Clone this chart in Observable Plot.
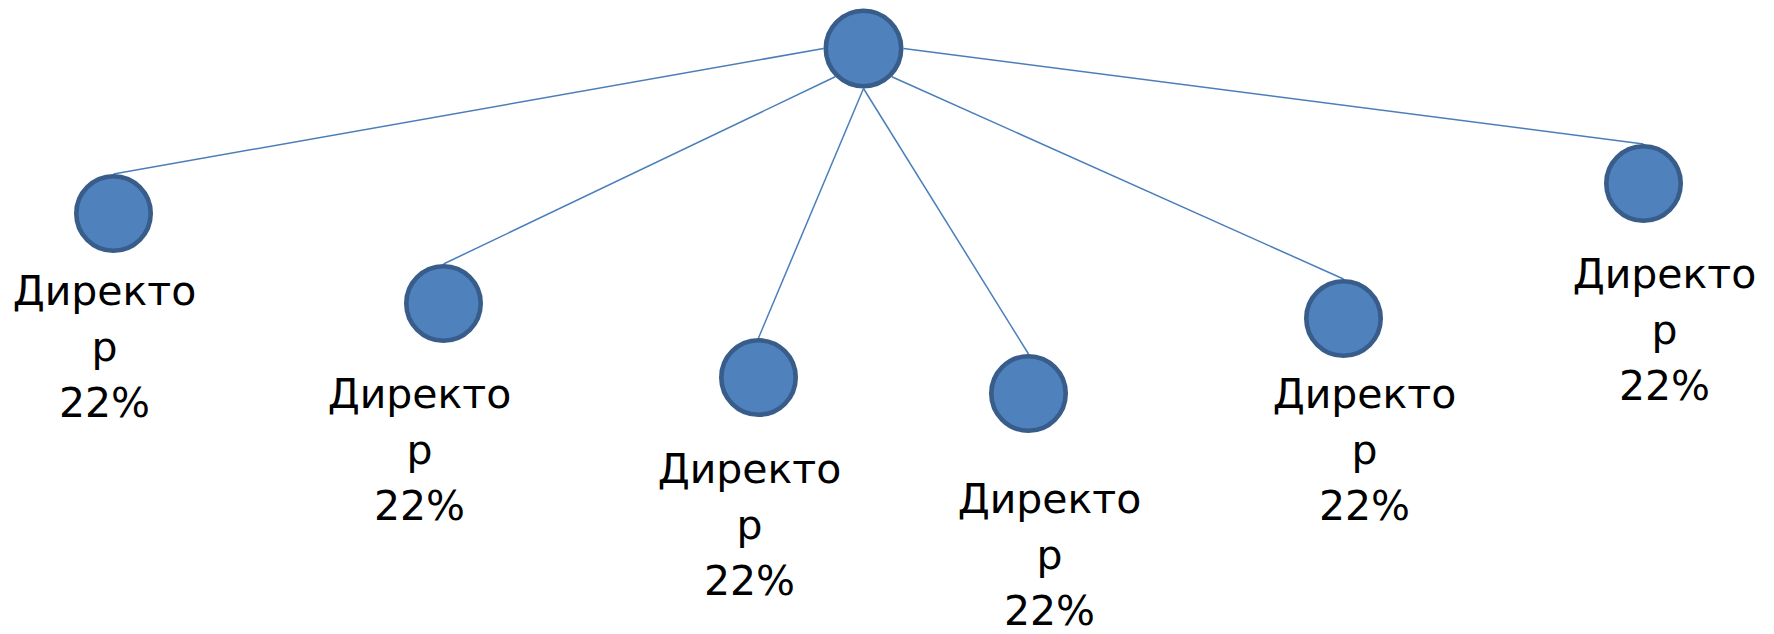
<!DOCTYPE html>
<html>
<head>
<meta charset="utf-8">
<script src="https://cdn.jsdelivr.net/npm/d3@7"></script>
<script src="https://cdn.jsdelivr.net/npm/@observablehq/plot@0.6"></script>
<style>
  html, body { margin: 0; padding: 0; background: #fff; }
  #chart svg { display: block; }
</style>
</head>
<body>
<div id="chart"></div>
<script>
// ---- data (diagram coordinates, in the chart's own units) ----
const rootX = [863];
const rootY = [48];
const leafTitles = ["Директор", "Директор", "Директор", "Директор", "Директор", "Директор"];
const leafShares = ["22%", "22%", "22%", "22%", "22%", "22%"];
const leafX = [113, 443, 758, 1028, 1343, 1643];
const leafY = [213, 303, 377, 393, 318, 183];
const labelX = [104, 419, 749, 1049, 1364, 1664];
const labelY = [275, 378, 453, 483, 378, 258];
const rootPorts = ["W", "SW", "S", "S", "SE", "E"];

// ---- derived tables ----
const R_ROOT = 40, R_LEAF = 39.5, SW_W = 4.6;
const portAngle = {E: 0, SE: 45, S: 90, SW: 135, W: 180};
const root = [{x: rootX[0], y: rootY[0]}];
const leaves = leafX.map((x, i) => ({
  x, y: leafY[i],
  lx: labelX[i], ly: labelY[i],
  text: leafTitles[i].slice(0, 7) + "\n" + leafTitles[i].slice(7) + "\n" + leafShares[i]
}));
const edges = leaves.map((d, i) => {
  const a = portAngle[rootPorts[i]] * Math.PI / 180;
  return {
    x1: root[0].x + R_ROOT * Math.cos(a),
    y1: root[0].y + R_ROOT * Math.sin(a),
    x2: d.x,
    y2: d.y - R_LEAF
  };
});

const fill = "#4F81BD", stroke = "#385D8A", lineColor = "#4A7EBB";

const chart = Plot.plot({
  width: 1774,
  height: 634,
  margin: 0,
  style: {background: "#fff"},
  x: {domain: [0, 1774], range: [0, 1774], axis: null},
  y: {domain: [0, 634], range: [0, 634], axis: null},
  marks: [
    Plot.link(edges, {x1: "x1", y1: "y1", x2: "x2", y2: "y2", stroke: lineColor, strokeWidth: 1.5}),
    Plot.dot(root, {x: "x", y: "y", r: R_ROOT - SW_W / 2, fill, stroke, strokeWidth: SW_W}),
    Plot.dot(leaves, {x: "x", y: "y", r: R_LEAF - SW_W / 2, fill, stroke, strokeWidth: SW_W}),
    Plot.text(leaves, {
      x: "lx", y: "ly", text: "text",
      dy: -11,
      lineAnchor: "top", lineHeight: 1.375,
      textAnchor: "middle",
      fontFamily: "DejaVu Sans", fontSize: 41, fill: "#000"
    })
  ]
});
document.getElementById("chart").appendChild(chart);
</script>
</body>
</html>
